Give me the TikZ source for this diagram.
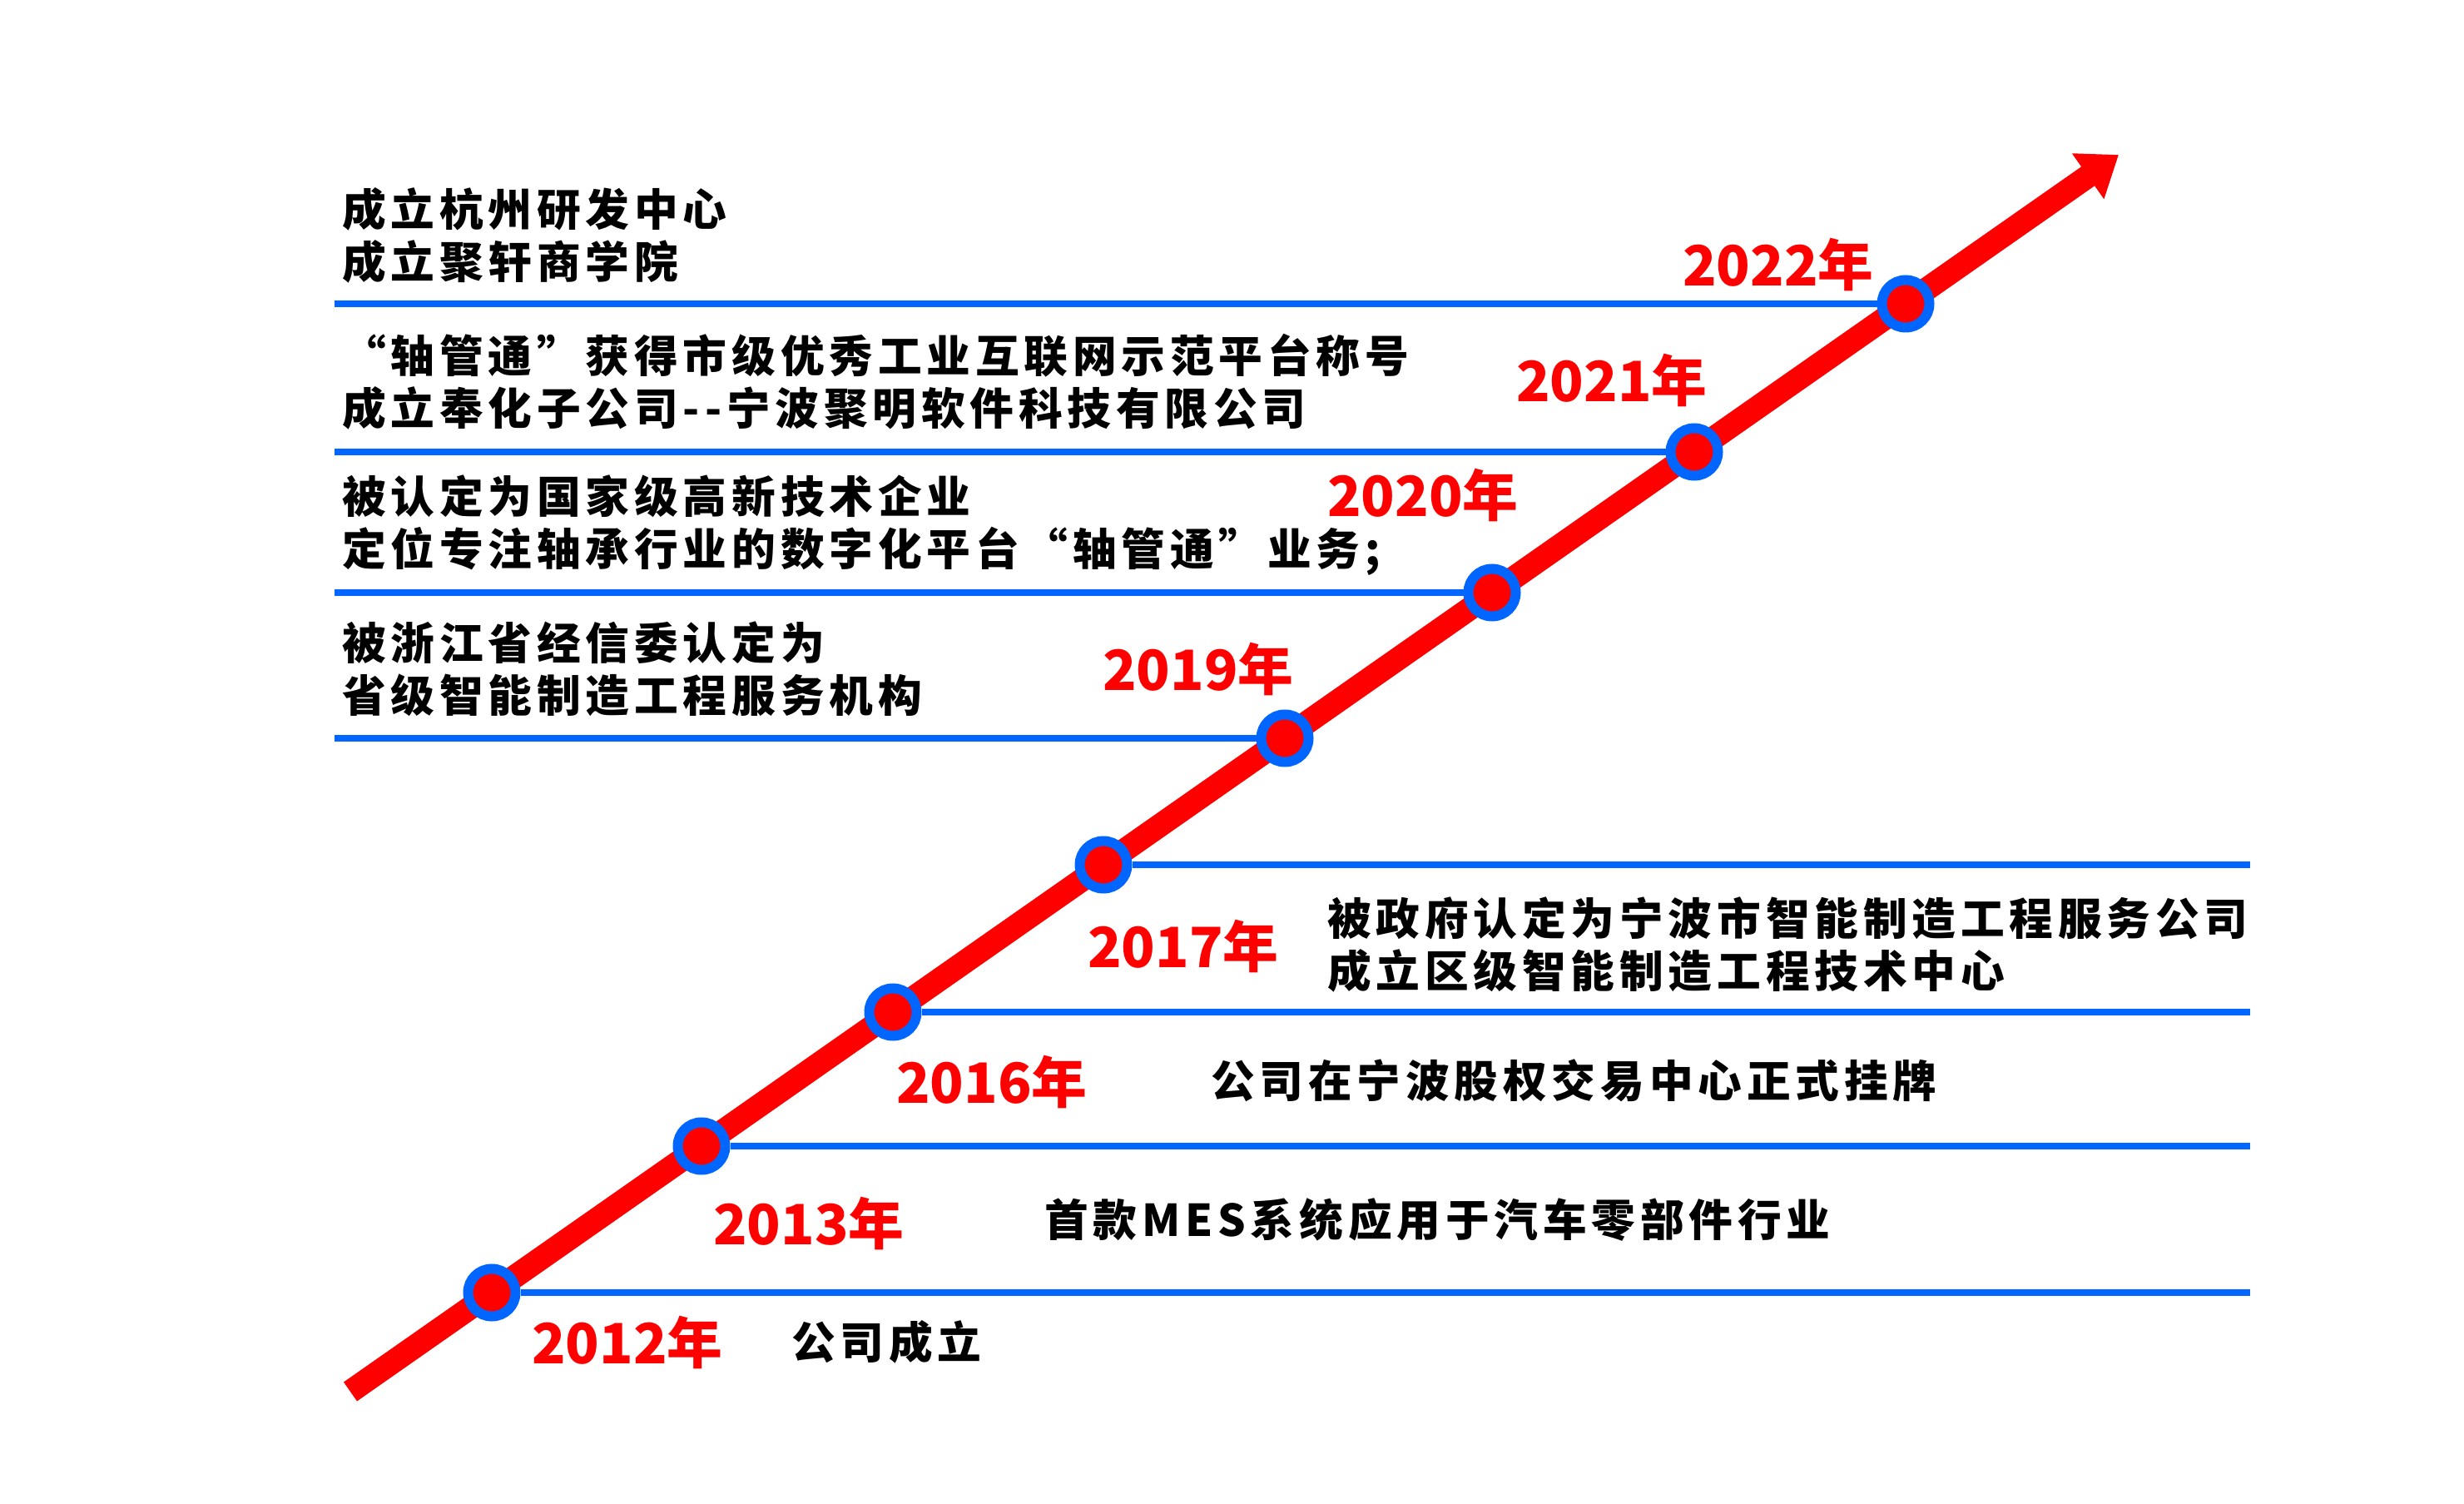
\documentclass[tikz,border=0pt]{standalone}
\usepackage{fontspec}
\newfontfamily\cjk[LetterSpace=11]{Noto Sans CJK SC}
\newfontfamily\cjknum{Noto Sans CJK SC}
\usetikzlibrary{arrows.meta}
\definecolor{lineblue}{RGB}{0,102,255}
\definecolor{timered}{RGB}{255,0,0}

\begin{document}
\begin{tikzpicture}[
       thick,
       jalon/.style={
         circle,
         fill=timered,
         draw=lineblue,
         line width=0.12cm,
         inner sep=0pt,
         minimum size=0.57cm
       },
       annee/.style={
         text=timered,
         inner sep=0pt,
         font=\cjknum\bfseries\fontsize{19pt}{19pt}\selectfont
       },
       fait/.style={
         anchor=west,
         inner sep=0pt,
         align=left,
         font=\cjk\bfseries\fontsize{15pt}{0.63cm}\selectfont
       },
       rail/.style={
         draw=lineblue,
         line width=0.075cm
       }
     ]

       \useasboundingbox (0,0) rectangle (29.61,18.06);

       \coordinate (s) at (4.21,1.34);
       \coordinate (e) at (25.46,16.20);
       \draw[timered,line width=0.28cm,-{Triangle[length=0.45cm,width=0.64cm]}] (s) -- (e);

       \node (a1) at (5.91,2.53) [jalon]{};
       \node (a2) at (8.43,4.29) [jalon]{};
       \node (a3) at (10.73,5.90) [jalon]{};
       \node (a4) at (13.26,7.67) [jalon]{};
       \node (a5) at (15.44,9.19) [jalon]{};
       \node (a6) at (17.93,10.94) [jalon]{};
       \node (a7) at (20.36,12.63) [jalon]{};
       \node (a8) at (22.90,14.41) [jalon]{};

       \coordinate (c1) at (27.04,2.53);
       \coordinate (c2) at (27.04,4.29);
       \coordinate (c3) at (27.04,5.90);
       \coordinate (c4) at (27.04,7.67);
       \coordinate (c5) at (4.02,9.19);
       \coordinate (c6) at (4.02,10.94);
       \coordinate (c7) at (4.02,12.63);
       \coordinate (c8) at (4.02,14.41);

       \draw[rail] (a1) -- (c1);
       \draw[rail] (a2) -- (c2);
       \draw[rail] (a3) -- (c3);
       \draw[rail] (a4) -- (c4);
       \draw[rail] (a5) -- (c5);
       \draw[rail] (a6) -- (c6);
       \draw[rail] (a7) -- (c7);
       \draw[rail] (a8) -- (c8);

       \node (l1) at (7.54,1.93) [annee]{2012年};
       \node (l2) at (9.72,3.36) [annee]{2013年};
       \node (l3) at (11.92,5.06) [annee]{2016年};
       \node (l4) at (14.22,6.69) [annee]{2017年};
       \node (l5) at (14.40,10.02) [annee]{2019年};
       \node (l6) at (17.10,12.11) [annee]{2020年};
       \node (l7) at (19.37,13.49) [annee]{2021年};
       \node (l8) at (21.37,14.88) [annee]{2022年};

       \node (t1) at (9.50,1.94) [fait]{公司成立};
       \node (t2) at (12.54,3.40) [fait]{首款MES系统应用于汽车零部件行业};
       \node (t3) at (14.54,5.08) [fait]{公司在宁波股权交易中心正式挂牌};
       \node (t4) at (15.94,6.71) [fait]{被政府认定为宁波市智能制造工程服务公司\\成立区级智能制造工程技术中心};
       \node (t5) at (4.10,10.025) [fait]{被浙江省经信委认定为\\省级智能制造工程服务机构};
       \node (t6) at (4.10,11.75) [fait]{被认定为国家级高新技术企业\\定位专注轴承行业的数字化平台“轴管通”业务;};
       \node (t7) at (4.10,13.475) [fait]{“轴管通”获得市级优秀工业互联网示范平台称号\\成立奉化子公司-{}-宁波聚明软件科技有限公司};
       \node (t8) at (4.10,15.235) [fait]{成立杭州研发中心\\成立聚轩商学院};

\end{tikzpicture}
\end{document}
